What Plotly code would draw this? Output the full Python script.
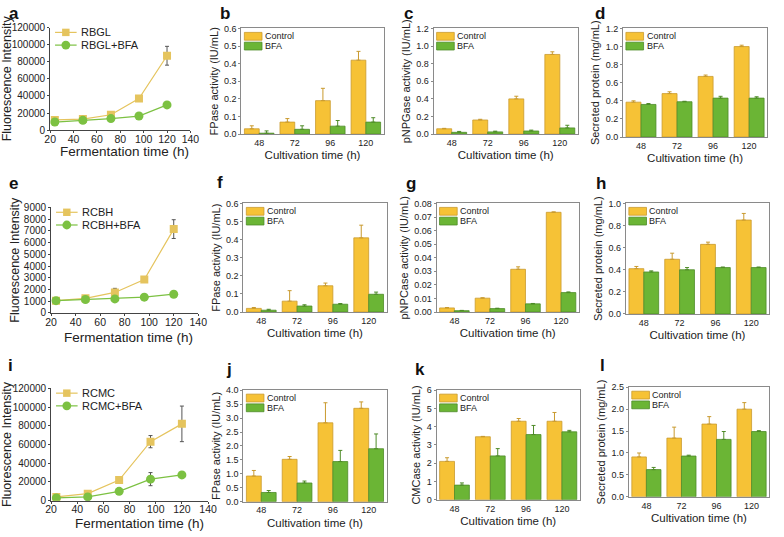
import plotly.graph_objects as go

W, H = 784, 537
times_line = [24, 48, 72, 96, 120]
cats = ["48", "72", "96", "120"]

# Row 1
rbgl = [12000, 13000, 18000, 37000, 87000]
rbgl_err = [2000, 2000, 3000, 3000, 11000]
rbgl_bfa = [9500, 11500, 13500, 16500, 29500]
rbgl_bfa_err = [2000, 2000, 2000, 1500, 2500]
b_ctrl = [0.03, 0.068, 0.19, 0.42]
b_ctrl_err = [0.017, 0.02, 0.07, 0.05]
b_bfa = [0.005, 0.027, 0.045, 0.068]
b_bfa_err = [0.013, 0.02, 0.032, 0.025]
c_ctrl = [0.06, 0.16, 0.40, 0.905]
c_ctrl_err = [0.005, 0.008, 0.03, 0.03]
c_bfa = [0.02, 0.025, 0.035, 0.07]
c_bfa_err = [0.01, 0.008, 0.01, 0.03]
d_ctrl = [0.385, 0.48, 0.67, 1.0]
d_ctrl_err = [0.015, 0.02, 0.015, 0.015]
d_bfa = [0.36, 0.39, 0.43, 0.43]
d_bfa_err = [0.01, 0.005, 0.02, 0.015]
# Row 2
rcbh = [1050, 1250, 1750, 2850, 7150]
rcbh_err = [150, 200, 350, 200, 800]
rcbh_bfa = [1050, 1150, 1200, 1350, 1600]
rcbh_bfa_err = [150, 150, 100, 100, 150]
f_ctrl = [0.02, 0.06, 0.145, 0.41]
f_ctrl_err = [0.005, 0.058, 0.015, 0.07]
f_bfa = [0.01, 0.033, 0.043, 0.098]
f_bfa_err = [0.005, 0.007, 0.004, 0.012]
g_ctrl = [0.003, 0.0102, 0.0315, 0.0735]
g_ctrl_err = [0.0003, 0.0003, 0.0018, 0.0003]
g_bfa = [0.001, 0.0025, 0.006, 0.0143]
g_bfa_err = [0.0002, 0.0003, 0.0003, 0.0005]
h_ctrl = [0.41, 0.495, 0.63, 0.85]
h_ctrl_err = [0.02, 0.055, 0.02, 0.06]
h_bfa = [0.38, 0.40, 0.42, 0.42]
h_bfa_err = [0.01, 0.02, 0.005, 0.005]
# Row 3
rcmc = [4000, 7500, 22000, 63000, 82000]
rcmc_err = [1500, 2500, 3000, 6500, 19000]
rcmc_bfa = [3000, 4000, 10000, 23000, 27500]
rcmc_bfa_err = [1500, 3500, 3000, 7000, 3000]
j_ctrl = [0.92, 1.52, 2.83, 3.35]
j_ctrl_err = [0.2, 0.1, 0.72, 0.23]
j_bfa = [0.33, 0.67, 1.44, 1.9]
j_bfa_err = [0.07, 0.07, 0.4, 0.53]
k_ctrl = [2.1, 3.45, 4.3, 4.3]
k_ctrl_err = [0.2, 0.02, 0.15, 0.48]
k_bfa = [0.8, 2.4, 3.57, 3.72]
k_bfa_err = [0.12, 0.4, 0.5, 0.08]
l_ctrl = [0.91, 1.34, 1.66, 2.0]
l_ctrl_err = [0.09, 0.25, 0.17, 0.15]
l_bfa = [0.62, 0.93, 1.31, 1.49]
l_bfa_err = [0.05, 0.02, 0.18, 0.02]

FONT = "Liberation Sans, Arial, sans-serif"
YEL = "#F6C236"
YEL_EDGE = "#C99A2E"
GRN = "#6BB535"
GRN_EDGE = "#4E8B28"
LYEL = "#E5C45E"
LGRN = "#7CC142"

fig = go.Figure()
layout = dict(width=W, height=H, margin=dict(l=0, r=0, t=0, b=0),
              paper_bgcolor="white", plot_bgcolor="white",
              font=dict(family=FONT, color="#222"), barmode="group",
              bargap=0.17, bargroupgap=0.0, showlegend=False)

def PX(x):
    return x / W

def PY(y):
    return 1 - y / H

def px_dom_x(x0, x1):
    return [PX(x0), PX(x1)]

def px_dom_y(top, bot):
    return [PY(bot), PY(top)]

annotations = []
shapes = []

def letter_ann(letter, pos):
    annotations.append(dict(text="<b>%s</b>" % letter, x=PX(pos[0]), y=PY(pos[1]),
                            xref="paper", yref="paper", showarrow=False,
                            font=dict(size=17, color="#111"), xanchor="center", yanchor="middle"))

def add_line_panel(idx, box, yrange, ydtick, names, ys, errs, letter, letter_pos, xtitle_pos, xmax=140):
    ax = "" if idx == 1 else str(idx)
    x0, x1, top, bot = box
    xa = "xaxis" + ax
    ya = "yaxis" + ax
    layout[xa] = dict(domain=px_dom_x(x0, x1), anchor="y" + ax, range=[20, xmax], dtick=20,
                      showline=True, linecolor="#444", linewidth=1, ticks="outside", ticklen=2,
                      tickcolor="#444", showgrid=False, zeroline=False, ticklabelstandoff=-3,
                      tickfont=dict(size=10.5, color="#222"))
    annotations.append(dict(text="Fermentation time (h)", x=PX(xtitle_pos[0]), y=PY(xtitle_pos[1]),
                            xref="paper", yref="paper", showarrow=False, xanchor="center",
                            yanchor="middle", font=dict(size=13.5, color="#222")))
    layout[ya] = dict(domain=px_dom_y(top, bot), anchor="x" + ax, range=yrange, dtick=ydtick,
                      tickformat="d",
                      showline=True, linecolor="#444", linewidth=1, ticks="outside", ticklen=2,
                      tickcolor="#444", showgrid=False, zeroline=False,
                      tickfont=dict(size=10, color="#222"),
                      title=dict(text="Fluorescence Intensity", font=dict(size=12.5), standoff=1))
    styles = [(LYEL, "square", 8), (LGRN, "circle", 9)]
    for k, (nm, y, e, (col, sym, sz)) in enumerate(zip(names, ys, errs, styles)):
        fig.add_trace(go.Scatter(x=times_line, y=y, name=nm, mode="lines+markers",
                                 line=dict(color=col, width=1.2),
                                 marker=dict(color=col, symbol=sym, size=sz),
                                 error_y=dict(type="data", array=e, color="#555", thickness=1, width=2),
                                 xaxis="x" + ax, yaxis="y" + ax))
        # manual legend entry
        ly = top + 5 + 13 * k
        lx0, lx1 = x0 + 5, x0 + 27
        shapes.append(dict(type="line", xref="paper", yref="paper", x0=PX(lx0), x1=PX(lx1),
                           y0=PY(ly), y1=PY(ly), line=dict(color=col, width=1.2)))
        cx = (lx0 + lx1) / 2
        r = 3.8 if sym == "square" else 4.5
        shapes.append(dict(type="rect" if sym == "square" else "circle", xref="paper", yref="paper",
                           x0=PX(cx - r), x1=PX(cx + r), y0=PY(ly + r), y1=PY(ly - r),
                           fillcolor=col, line=dict(width=0)))
        annotations.append(dict(text=nm, x=PX(lx1 + 2), y=PY(ly), xref="paper", yref="paper",
                                showarrow=False, xanchor="left", yanchor="middle",
                                font=dict(size=11, color="#222")))
    letter_ann(letter, letter_pos)


def add_bar_panel(idx, box, yrange, ydtick, ctrl, ctrl_err, bfa, bfa_err, ytitle, letter, letter_pos, tickfmt=None):
    ax = str(idx)
    x0, x1, top, bot = box
    xa = "xaxis" + ax
    ya = "yaxis" + ax
    layout[xa] = dict(domain=px_dom_x(x0, x1), anchor="y" + ax, type="category",
                      categoryorder="array", categoryarray=cats,
                      showline=True, mirror=True, linecolor="#8a8a8a", linewidth=1,
                      ticks="", showgrid=False, zeroline=False,
                      tickfont=dict(size=9, color="#222"),
                      title=dict(text="Cultivation time (h)", font=dict(size=11.5), standoff=4))
    yd = dict(domain=px_dom_y(top, bot), anchor="x" + ax, range=yrange, dtick=ydtick,
              showline=True, mirror=True, linecolor="#8a8a8a", linewidth=1,
              ticks="outside", ticklen=2, tickcolor="#8a8a8a", showgrid=False, zeroline=False,
              tickfont=dict(size=9, color="#222"),
              title=dict(text=ytitle, font=dict(size=11), standoff=3))
    if tickfmt:
        yd["tickformat"] = tickfmt
    layout[ya] = yd
    for k, (nm, y, e, col, edge) in enumerate([("Control", ctrl, ctrl_err, YEL, YEL_EDGE),
                                               ("BFA", bfa, bfa_err, GRN, GRN_EDGE)]):
        fig.add_trace(go.Bar(x=cats, y=y, name=nm, marker=dict(color=col, line=dict(color=edge, width=0.8)),
                             error_y=dict(type="data", array=e, symmetric=False, arrayminus=[0] * len(e),
                                          color=edge, thickness=1, width=2),
                             xaxis="x" + ax, yaxis="y" + ax, offsetgroup=nm))
        sy0 = top + 4 + 10 * k
        shapes.append(dict(type="rect", xref="paper", yref="paper",
                           x0=PX(x0 + 3), x1=PX(x0 + 21), y0=PY(sy0 + 8), y1=PY(sy0),
                           fillcolor=col, line=dict(color=edge, width=0.8)))
        annotations.append(dict(text=nm, x=PX(x0 + 22), y=PY(sy0 + 4), xref="paper", yref="paper",
                                showarrow=False, xanchor="left", yanchor="middle",
                                font=dict(size=9, color="#222")))
    letter_ann(letter, letter_pos)


add_line_panel(1, (45, 188, 22, 127), [0, 120000], 20000, ["RBGL", "RBGL+BFA"],
               [rbgl, rbgl_bfa], [rbgl_err, rbgl_bfa_err], "a", (8, 8), (121, 149))
add_bar_panel(2, (240, 385, 23, 131), [0, 0.6], 0.1, b_ctrl, b_ctrl_err, b_bfa, b_bfa_err,
              "FPase activity (IU/mL)", "b", (223, 8), ".1f")
add_bar_panel(3, (436, 583, 23, 131), [0, 1.2], 0.2, c_ctrl, c_ctrl_err, c_bfa, c_bfa_err,
              "pNPGase activity (IU/mL)", "c", (410, 8), ".1f")
add_bar_panel(4, (629, 776, 23, 134), [0, 1.2], 0.2, d_ctrl, d_ctrl_err, d_bfa, d_bfa_err,
              "Secreted protein (mg/mL)", "d", (606, 8), ".1f")
add_line_panel(5, (46, 196, 206, 314), [0, 9000], 1000, ["RCBH", "RCBH+BFA"],
               [rcbh, rcbh_bfa], [rcbh_err, rcbh_bfa_err], "e", (8, 182), (125, 339))
add_bar_panel(6, (242, 388, 202, 313), [0, 0.6], 0.1, f_ctrl, f_ctrl_err, f_bfa, f_bfa_err,
              "FPase activity (IU/mL)", "f", (218, 181), ".1f")
add_bar_panel(7, (439, 584, 202, 313), [0, 0.08], 0.01, g_ctrl, g_ctrl_err, g_bfa, g_bfa_err,
              "pNPCase activity (IU/mL)", "g", (413, 182), ".2f")
add_bar_panel(8, (632, 778, 202, 315), [0, 1.0], 0.2, h_ctrl, h_ctrl_err, h_bfa, h_bfa_err,
              "Secreted protein (mg/mL)", "h", (607, 182), ".1f")
add_line_panel(9, (46, 206, 391, 506), [0, 120000], 20000, ["RCMC", "RCMC+BFA"],
               [rcmc, rcmc_bfa], [rcmc_err, rcmc_bfa_err], "i", (5, 368), (136, 529))
add_bar_panel(10, (242, 388, 393, 507), [0, 4], 0.5, j_ctrl, j_ctrl_err, j_bfa, j_bfa_err,
              "FPase activity (IU/mL)", "j", (227, 372), ".1f")
add_bar_panel(11, (439, 585, 393, 505), [0, 6], 1, k_ctrl, k_ctrl_err, k_bfa, k_bfa_err,
              "CMCase activity (IU/mL)", "k", (422, 372), "d")
add_bar_panel(12, (635, 778, 390, 502), [0, 2.5], 0.5, l_ctrl, l_ctrl_err, l_bfa, l_bfa_err,
              "Secreted protein (mg/mL)", "l", (608, 368), ".1f")

layout["annotations"] = annotations
layout["shapes"] = shapes
fig.update_layout(**layout)
fig.write_html("out.html", config={"displayModeBar": False},
               post_script="document.body.style.margin='0';document.body.style.padding='0';document.body.style.overflow='hidden';")
